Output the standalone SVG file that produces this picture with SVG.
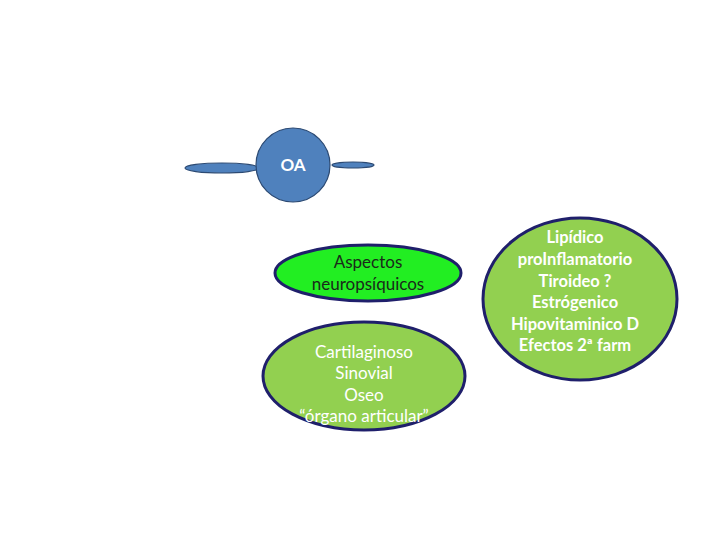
<svg xmlns="http://www.w3.org/2000/svg" width="720" height="540" viewBox="0 0 720 540">
<style>
.blue{fill:#4F81BD;stroke:#2C4A73;stroke-width:1.2}
.node{stroke:#1F1F6B;stroke-width:3}
.t{font-family:Lato,"Open Sans","Liberation Sans",sans-serif;font-size:17px;text-anchor:middle}
.b{font-size:16.5px;font-weight:bold}
.w{fill:#FFFFFF}
.d{fill:#1A2A1A}
</style>
<rect width="720" height="540" fill="#FFFFFF"/>
<g id="connectors">
<ellipse class="blue" cx="222" cy="168" rx="37" ry="5"/>
<ellipse class="blue" cx="353" cy="165" rx="21" ry="3"/>
</g>
<g id="oa">
<circle class="blue" cx="293" cy="165" r="37"/>
<text class="t w" x="293" y="171" font-size="16" font-weight="bold">OA</text>
</g>
<g id="aspectos">
<ellipse class="node" cx="368" cy="273" rx="93" ry="28" fill="#22EE22"/>
<text class="t d" x="368" y="268">Aspectos</text>
<text class="t d" x="368" y="290">neuropsíquicos</text>
</g>
<g id="organo">
<ellipse class="node" cx="364" cy="376" rx="101" ry="54" fill="#92D050"/>
<text class="t w" x="364" y="358">Cartilaginoso</text>
<text class="t w" x="364" y="379">Sinovial</text>
<text class="t w" x="364" y="401">Oseo</text>
<text class="t w" x="364" y="422">“órgano articular”</text>
</g>
<g id="factores">
<ellipse class="node" cx="580" cy="299" rx="97" ry="81" fill="#92D050"/>
<text class="t b w" x="575" y="243">Lipídico</text>
<text class="t b w" x="575" y="265">proInflamatorio</text>
<text class="t b w" x="575" y="287">Tiroideo ?</text>
<text class="t b w" x="575" y="308">Estrógenico</text>
<text class="t b w" x="575" y="330">Hipovitaminico D</text>
<text class="t b w" x="575" y="351">Efectos 2ª farm</text>
</g>
</svg>
